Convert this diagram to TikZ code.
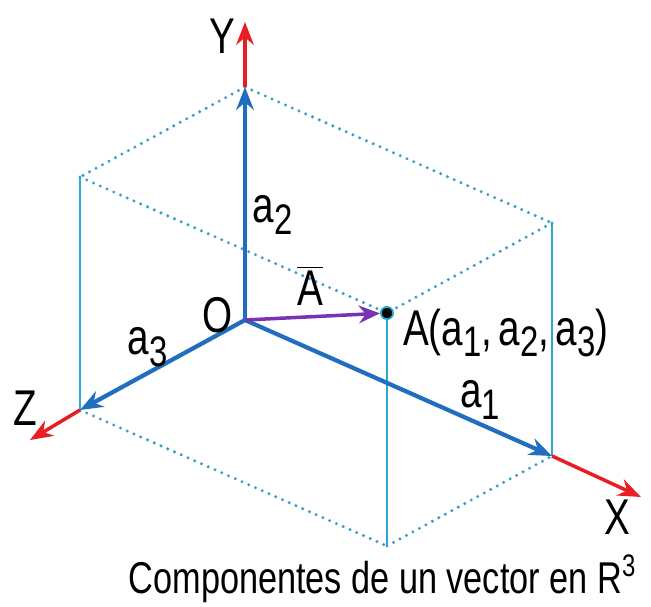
\documentclass[tikz,border=0pt]{standalone}
\usepackage{fontspec}
\setmainfont{Liberation Sans}
\usetikzlibrary{arrows.meta}
\definecolor{azul}{RGB}{33, 110, 190}
\definecolor{rojo}{RGB}{232, 30, 36}
\definecolor{celeste}{RGB}{40, 170, 210}
\definecolor{punteado}{RGB}{55, 160, 195}
\definecolor{morado}{RGB}{120, 50, 180}
\newcommand{\sbx}[1]{\raisebox{-0.45ex}{\scalebox{0.85}{#1}}}
\tikzset{
  eje/.style={-{Stealth[length=13pt, width=10pt]}, line width=2.4pt, azul},
  ejeext/.style={-{Stealth[length=13pt, width=10pt]}, line width=2pt, rojo},
  arista/.style={punteado, line width=1.9pt, line cap=round, dash pattern=on 0pt off 4.2pt},
  aristav/.style={celeste, line width=1.4pt},
  rotulo/.style={font=\fontsize{22}{26}\selectfont, yscale=1.3, transform shape, inner sep=1pt},
}

\begin{document}
\begin{tikzpicture}

\useasboundingbox (0,0) rectangle (13.02,-12.12);

% vertices of the box
\coordinate (O) at (4.9,-6.4);
\coordinate (Px) at (11.04,-9.12);
\coordinate (Py) at (4.9,-1.74);
\coordinate (Pz) at (1.6,-8.2);
\coordinate (Pxy) at (11.04,-4.46);
\coordinate (Pyz) at (1.6,-3.54);
\coordinate (Pxz) at (7.74,-10.92);
\coordinate (Xf) at (12.82,-9.94);
\coordinate (Yf) at (4.9,-0.44);
\coordinate (Zf) at (0.6,-8.8);

% dotted edges
\draw[arista] (Py) -- (Pxy);
\draw[arista] (Py) -- (Pyz);
\draw[arista] (Pyz) -- (7.74,-6.26);
\draw[arista] (Pxy) -- (7.74,-6.26);
\draw[arista] (Pz) -- (Pxz);
\draw[arista] (Pxz) -- (Px);
\draw[aristav] (Pyz) -- (Pz);
\draw[aristav] (Pxy) -- (Px);
\draw[aristav] (7.74,-6.26) -- (Pxz);

% axes
\draw[ejeext] (Py) -- (Yf);
\draw[ejeext] (Px) -- (Xf);
\draw[ejeext] (Pz) -- (Zf);
\draw[eje] (O) -- (Py);
\draw[eje] (O) -- (Px);
\draw[eje] (O) -- (Pz);

\node[circle, fill=black, draw=celeste, line width=1pt, inner sep=0pt, minimum size=7pt] (A) at (7.74,-6.26) {};
\draw[-{Stealth[length=12pt, width=10pt]}, line width=2pt, morado] (O) -- (A);

\node[rotulo] (ly) at (4.44,-0.72) {Y};
\node[rotulo] (lx) at (12.34,-10.34) {X};
\node[rotulo] (lz) at (0.5,-8.16) {Z};
\node[rotulo] (lo) at (4.36,-6.3) {O};
\node[rotulo] (la2) at (5.45,-4.3) {a\sbx{2}};
\node[rotulo] (la3) at (2.95,-6.95) {a\sbx{3}};
\node[rotulo] (la1) at (9.6,-8.0) {a\sbx{1}};
\node[rotulo] (lA) at (6.2,-5.72) {$\overline{\mbox{A}}$};
\node[rotulo, anchor=west] (lpt) at (8.02,-6.66) {A(a\sbx{1},\,a\sbx{2},\,a\sbx{3})};
\node[rotulo, font=\fontsize{19.5}{24}\selectfont] (cap) at (7.65,-11.58) {Componentes de un vector en R\textsuperscript{3}};

\end{tikzpicture}
\end{document}
